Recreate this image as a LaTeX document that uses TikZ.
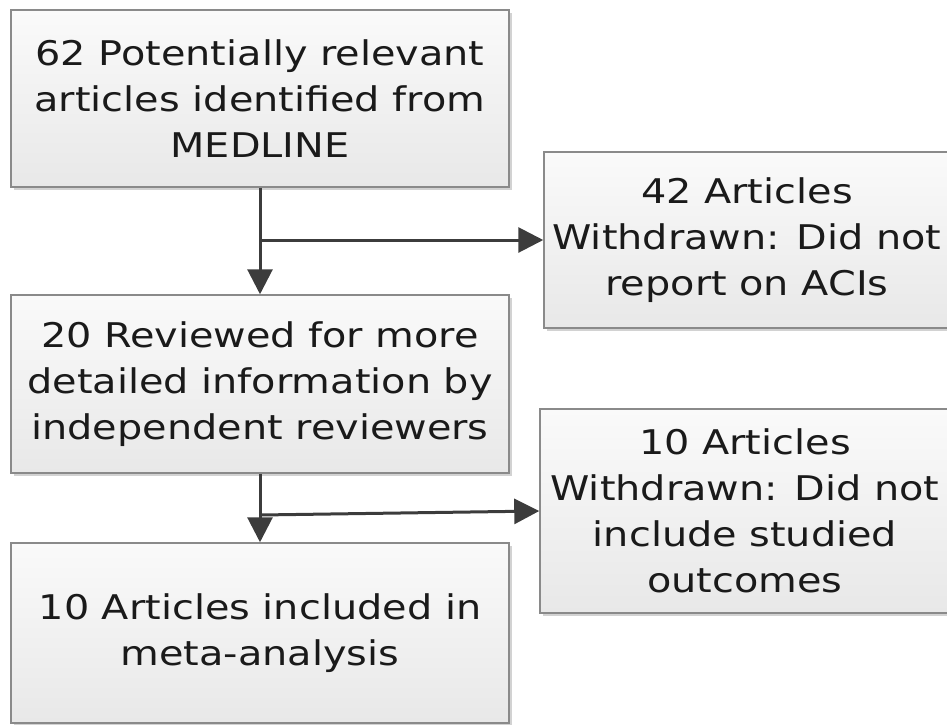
\documentclass[tikz,border=0pt]{standalone}
\usepackage{fontspec}
\setmainfont[FakeStretch=1.17]{DejaVu Sans}
\usetikzlibrary{arrows.meta,shadows}
\definecolor{boxline}{HTML}{8A8A8A}
\definecolor{boxtop}{HTML}{FAFAFA}
\definecolor{boxbot}{HTML}{E8E8E8}
\definecolor{arrowc}{HTML}{3C3C3C}
\definecolor{txt}{HTML}{1A1A1A}
\tikzset{
  flowbox/.style={draw=boxline, line width=1.5pt, rectangle, inner sep=0pt,
    top color=boxtop, bottom color=boxbot, align=center, text=txt,
    font=\fontsize{34}{46}\selectfont,
    drop shadow={shadow xshift=3pt, shadow yshift=-3pt, fill=black!22, opacity=0.8}},
  flowarrow/.style={draw=arrowc, line width=3pt, -{Triangle[width=25pt,length=25pt]}},
  flowline/.style={draw=arrowc, line width=3pt}
}
\begin{document}
\begin{tikzpicture}[x=1pt,y=-1pt]
\useasboundingbox (0,0) rectangle (947,724);
\node[flowbox, minimum width=498pt, minimum height=177pt] (b1) at (260,98.5)
  {62 Potentially relevant\\articles identified from\\MEDLINE};
\node[flowbox, minimum width=498pt, minimum height=178pt] (b2) at (260,384)
  {20 Reviewed for more\\detailed information by\\independent reviewers};
\node[flowbox, minimum width=498pt, minimum height=180pt] (b3) at (260,633)
  {10 Articles included in\\meta-analysis};
\node[flowbox, minimum width=406pt, minimum height=176pt] (w1) at (747,240)
  {42 Articles\\Withdrawn: Did not\\report on ACIs};
\node[flowbox, minimum width=410pt, minimum height=204pt] (w2) at (745,511)
  {10 Articles\\Withdrawn: Did not\\include studied\\outcomes};
\coordinate (j1) at (b1.south |- w1.west);
\coordinate (j2) at ([yshift=-4pt]b2.south |- w2.west);
\draw[flowarrow] (b1.south) -- (b2.north);
\draw[flowarrow] (j1) -- (w1.west);
\draw[flowarrow] (b2.south) -- (b3.north);
\draw[flowarrow] (j2) -- (w2.west);
\end{tikzpicture}
\end{document}
